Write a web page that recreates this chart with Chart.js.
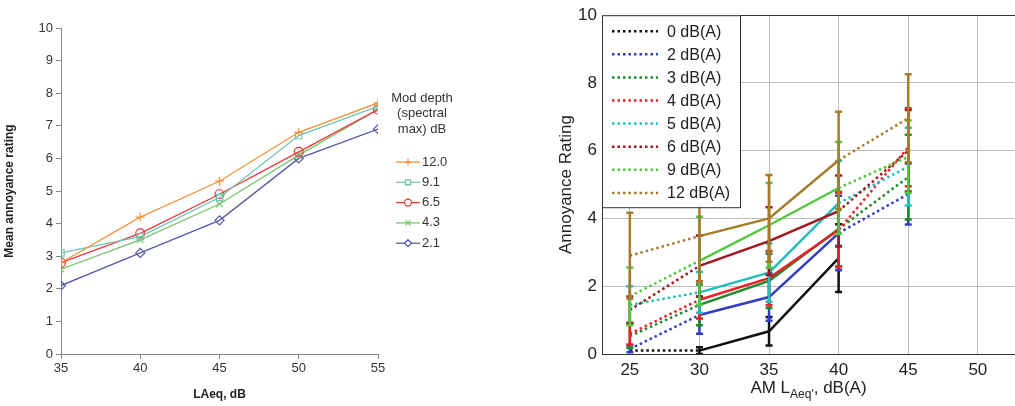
<!DOCTYPE html>
<html>
<head>
<meta charset="utf-8">
<script src="https://cdn.jsdelivr.net/npm/chart.js@4.4.1/dist/chart.umd.min.js"></script>
<style>
  body { margin: 0; background: #fff; width: 1015px; height: 406px; overflow: hidden; position: relative; }
  .box { position: absolute; top: 0; height: 406px; }
  #leftBox { left: 0; width: 520px; }
  #rightBox { left: 540px; width: 475px; }
</style>
</head>
<body>
<div class="box" id="leftBox"><canvas id="leftChart"></canvas></div>
<div class="box" id="rightBox"><canvas id="rightChart"></canvas></div>
<script>
// left panel: mean annoyance vs LAeq, one line per modulation depth
const laeq = [35, 40, 45, 50, 55];
const leftYTicks = [0, 1, 2, 3, 4, 5, 6, 7, 8, 9, 10];
const depthLabels = ['12.0', '9.1', '6.5', '4.3', '2.1'];
const mean120 = [2.8, 4.2, 5.3, 6.8, 7.7];
const mean91 = [3.1, 3.6, 4.8, 6.7, 7.6];
const mean65 = [2.8, 3.7, 4.9, 6.2, 7.5];
const mean43 = [2.6, 3.5, 4.6, 6.1, 7.5];
const mean21 = [2.1, 3.1, 4.1, 6.0, 6.9];
const legendTitle = ['Mod depth', '(spectral', 'max) dB'];

// right panel: annoyance rating vs AM LAeq, with error bars
const amLevels = [25, 30, 35, 40, 45];
const amXTicks = [25, 30, 35, 40, 45, 50];
const amYTicks = [0, 2, 4, 6, 8, 10];
const amLabels = ['0 dB(A)', '2 dB(A)', '3 dB(A)', '4 dB(A)', '5 dB(A)', '6 dB(A)', '9 dB(A)', '12 dB(A)'];
const am0 = [0.1, 0.1, 0.67, 2.83, null];
const am2 = [0.15, 1.15, 1.68, 3.57, 4.72];
const am3 = [0.53, 1.45, 2.16, 3.69, 5.22];
const am4 = [0.6, 1.6, 2.24, 3.66, 6.1];
const am5 = [1.45, 1.82, 2.4, 4.45, 5.53];
const am6 = [1.3, 2.6, 3.33, 4.22, 6.0];
const am9 = [1.7, 2.75, 3.8, 4.9, 5.82];
const am12 = [2.9, 3.48, 4.0, 5.72, 6.96];
const err0 = [0, 0.1, 0.42, 1.0, 0];
const err2 = [0.1, 0.55, 0.7, 1.1, 0.9];
const err3 = [0.35, 0.6, 0.8, 1.1, 1.25];
const err4 = [0.32, 0.55, 0.8, 1.1, 1.15];
const err5 = [0.55, 0.6, 0.86, 1.25, 1.15];
const err6 = [0.4, 0.9, 1.0, 1.05, 1.2];
const err9 = [0.85, 1.3, 1.25, 1.36, 1.07];
const err12 = [1.27, 1.35, 1.28, 1.43, 1.3];

Chart.defaults.font.family = "'Liberation Sans', Arial, sans-serif";
Chart.defaults.animation = false;

const toPoints = (xs, ys) => xs.map((x, i) => ({ x: x, y: ys[i] }));

// ---------- left chart ----------
const leftColors = ['#F7923A', '#6EC6B2', '#F03434', '#78C46C', '#5558A8'];
const leftStyles = ['cross', 'rect', 'circle', 'crossRot', 'rectRot'];
const leftSeries = [mean120, mean91, mean65, mean43, mean21];

const leftLegend = {
  id: 'leftLegend',
  afterDraw(chart) {
    const ctx = chart.ctx;
    ctx.save();
    ctx.fillStyle = '#333';
    ctx.font = "13px 'Liberation Sans', Arial, sans-serif";
    ctx.textAlign = 'center';
    ctx.textBaseline = 'middle';
    legendTitle.forEach((t, i) => ctx.fillText(t, 422, 98 + i * 15.5));
    chart.data.datasets.forEach((ds, i) => {
      const y = 162 + i * 20.3;
      ctx.strokeStyle = ds.borderColor;
      ctx.lineWidth = 1.3;
      ctx.beginPath(); ctx.moveTo(396, y); ctx.lineTo(420, y); ctx.stroke();
      ctx.fillStyle = '#fff';
      Chart.helpers.drawPoint(ctx, { pointStyle: ds.pointStyle, radius: 3.5, borderWidth: 1.2, rotation: 0 }, 408, y);
      ctx.fillStyle = '#333';
      ctx.textAlign = 'left';
      ctx.fillText(ds.label, 422, y);
    });
    ctx.restore();
  }
};

new Chart(document.getElementById('leftChart'), {
  type: 'line',
  data: {
    datasets: leftSeries.map((s, i) => ({
      label: depthLabels[i],
      data: toPoints(laeq, s),
      borderColor: leftColors[i],
      backgroundColor: '#fff',
      borderWidth: 1.3,
      pointStyle: leftStyles[i],
      pointRadius: 4.5,
      pointBorderWidth: 1.2,
      pointBackgroundColor: 'rgba(255,255,255,0)',
      tension: 0
    }))
  },
  options: {
    responsive: true,
    maintainAspectRatio: false,
    layout: { padding: { top: 28, right: 142, left: 0, bottom: 0 } },
    plugins: { legend: { display: false }, tooltip: { enabled: false } },
    scales: {
      x: {
        type: 'linear', min: 35, max: 55,
        afterBuildTicks: a => { a.ticks = laeq.map(v => ({ value: v })); },
        afterFit: a => { a.height = 52; },
        grid: { drawOnChartArea: false, drawTicks: true, tickLength: 5, color: '#888' },
        border: { color: '#888' },
        ticks: { font: { size: 13 }, color: '#333', padding: 2 },
        title: { display: true, text: 'LAeq, dB', font: { size: 12, weight: 'bold' }, color: '#222', padding: { top: 3 } }
      },
      y: {
        min: 0, max: 10,
        afterBuildTicks: a => { a.ticks = leftYTicks.map(v => ({ value: v })); },
        afterFit: a => { a.width = 61; },
        grid: { drawOnChartArea: false, drawTicks: true, tickLength: 5, color: '#888' },
        border: { color: '#888' },
        ticks: { font: { size: 13 }, color: '#333', padding: 3 },
        title: { display: true, text: 'Mean annoyance rating', font: { size: 12, weight: 'bold' }, color: '#222', padding: { top: 2, bottom: 4 } }
      }
    }
  },
  plugins: [leftLegend]
});

// ---------- right chart ----------
const amColors = ['#111111', '#2E3FC4', '#1E8A2A', '#EE2027', '#22BDBD', '#A3141C', '#52C83E', '#A87B2A'];
const amSeries = [am0, am2, am3, am4, am5, am6, am9, am12];
const amErrors = [err0, err2, err3, err4, err5, err6, err9, err12];
const dottedSegs = [0, 3];

const errorBars = {
  id: 'errorBars',
  afterDatasetDraw(chart, args) {
    const ds = chart.data.datasets[args.index];
    if (!ds.errors) return;
    const xs = chart.scales.x, ys = chart.scales.y, ctx = chart.ctx, ca = chart.chartArea;
    ctx.save();
    ctx.beginPath(); ctx.rect(ca.left, ca.top, ca.right - ca.left, ca.bottom - ca.top); ctx.clip();
    ctx.strokeStyle = ds.borderColor;
    ctx.lineWidth = 2.5;
    ds.data.forEach((p, j) => {
      const e = ds.errors[j];
      if (p.y == null || !e) return;
      const px = xs.getPixelForValue(p.x);
      const top = ys.getPixelForValue(p.y + e), bot = ys.getPixelForValue(p.y - e);
      ctx.beginPath();
      ctx.moveTo(px, top); ctx.lineTo(px, bot);
      ctx.moveTo(px - 3.5, top); ctx.lineTo(px + 3.5, top);
      ctx.moveTo(px - 3.5, bot); ctx.lineTo(px + 3.5, bot);
      ctx.stroke();
    });
    ctx.restore();
  }
};

const rightExtras = {
  id: 'rightExtras',
  afterDraw(chart) {
    const ctx = chart.ctx, ca = chart.chartArea;
    ctx.save();
    // legend box
    const lx = ca.left, ly = ca.top;
    ctx.fillStyle = '#fff';
    ctx.fillRect(lx, ly, 138, 192);
    ctx.strokeStyle = '#333';
    ctx.lineWidth = 1;
    ctx.strokeRect(lx + 0.5, ly + 0.5, 138, 192);
    ctx.font = "16px 'Liberation Sans', Arial, sans-serif";
    ctx.textBaseline = 'middle';
    ctx.textAlign = 'left';
    chart.data.datasets.forEach((ds, i) => {
      const y = ly + 16 + i * 23.1;
      ctx.strokeStyle = ds.borderColor;
      ctx.lineWidth = 2.5;
      ctx.setLineDash([2.5, 3]);
      ctx.beginPath(); ctx.moveTo(lx + 10, y); ctx.lineTo(lx + 56, y); ctx.stroke();
      ctx.setLineDash([]);
      ctx.fillStyle = '#222';
      ctx.fillText(ds.label, lx + 65, y + 1);
    });
    // x title with subscript
    const big = "17px 'Liberation Sans', Arial, sans-serif", small = "12px 'Liberation Sans', Arial, sans-serif";
    const parts = [['AM L', big, 0], ["Aeq'", small, 5], [', dB(A)', big, 0]];
    let w = 0;
    parts.forEach(p => { ctx.font = p[1]; w += ctx.measureText(p[0]).width; });
    let x = (ca.left + ca.right) / 2 - w / 2;
    ctx.fillStyle = '#222';
    ctx.textBaseline = 'alphabetic';
    parts.forEach(p => { ctx.font = p[1]; ctx.fillText(p[0], x, 393 + p[2]); x += ctx.measureText(p[0]).width; });
    ctx.restore();
  }
};

new Chart(document.getElementById('rightChart'), {
  type: 'line',
  data: {
    datasets: amSeries.map((s, i) => ({
      label: amLabels[i],
      data: toPoints(amLevels, s),
      errors: amErrors[i],
      borderColor: amColors[i],
      borderWidth: 2.5,
      pointRadius: 0,
      tension: 0,
      order: -i,
      segment: { borderDash: c => dottedSegs.includes(c.p0DataIndex) ? [2.5, 3] : undefined }
    }))
  },
  options: {
    responsive: true,
    maintainAspectRatio: false,
    layout: { padding: { top: 15, right: 0, left: 0, bottom: 0 } },
    plugins: { legend: { display: false }, tooltip: { enabled: false } },
    scales: {
      x: {
        type: 'linear', min: 23, max: 52.67,
        afterBuildTicks: a => { a.ticks = amXTicks.map(v => ({ value: v })); },
        afterFit: a => { a.height = 52; },
        grid: { drawTicks: false, color: '#bdbdbd' },
        border: { color: '#333' },
        ticks: { font: { size: 17 }, color: '#222', padding: 6 }
      },
      y: {
        min: 0, max: 10,
        afterBuildTicks: a => { a.ticks = amYTicks.map(v => ({ value: v })); },
        afterFit: a => { a.width = 62; },
        grid: { drawTicks: false, color: c => c.tick && c.tick.value === 10 ? '#333' : '#bdbdbd' },
        border: { color: '#333' },
        ticks: { font: { size: 17 }, color: '#222', padding: 5 },
        title: { display: true, text: 'Annoyance Rating', font: { size: 17 }, color: '#222', padding: { top: 16, bottom: 0 } }
      }
    }
  },
  plugins: [errorBars, rightExtras]
});
</script>
</body>
</html>
